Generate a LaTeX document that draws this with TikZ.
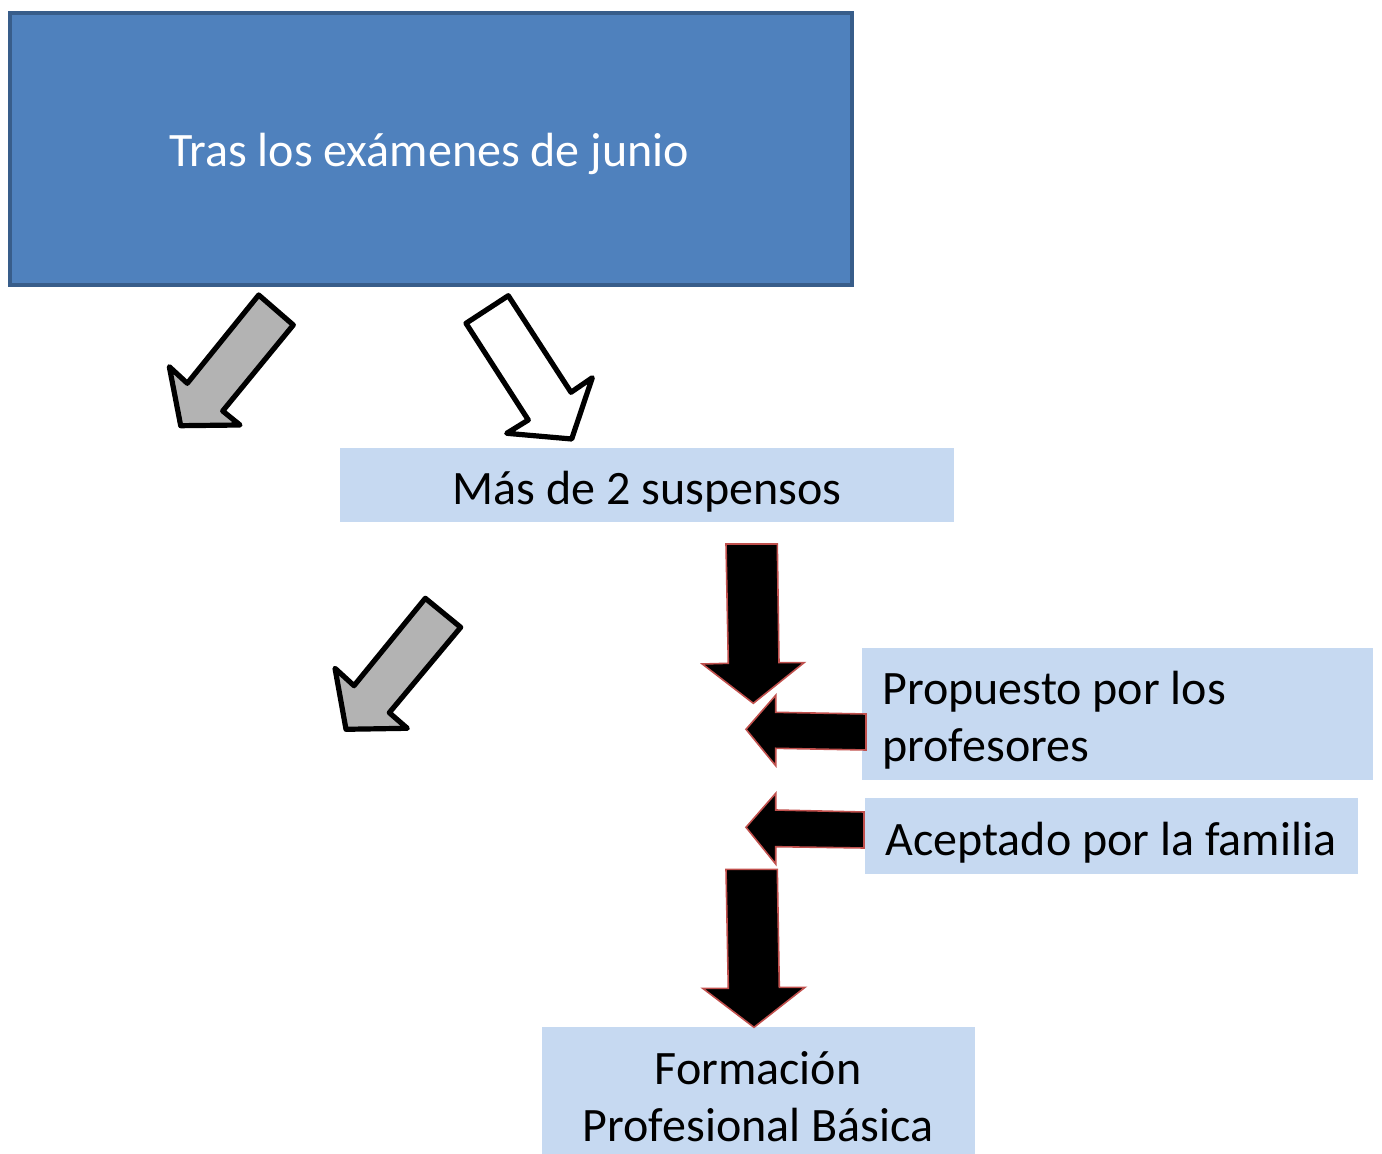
\documentclass[tikz,border=0pt]{standalone}
\usepackage{fontspec}
\setmainfont{Carlito}
\definecolor{topfill}{HTML}{4F81BD}
\definecolor{topline}{HTML}{385D8A}
\definecolor{lightbox}{HTML}{C6D9F1}
\definecolor{arrowgray}{HTML}{B3B3B3}
\definecolor{redline}{HTML}{C0504D}
\tikzset{
  lbl/.style={font=\fontsize{24}{28.5}\selectfont, text=black, inner sep=0pt},
  lightrect/.style={fill=lightbox, draw=none, inner sep=0pt, anchor=north west},
  outlinearrow/.style={draw=black, line width=2.6pt, line join=round},
  blackarrow/.style={fill=black, draw=redline, line width=0.8pt, line join=miter},
}
\begin{document}
\begin{tikzpicture}[x=0.5pt,y=-0.5pt]
\useasboundingbox (0,0) rectangle (1382,1154);
\begin{scope}
\clip (0,0) rectangle (1382,1154);
% top box
\node[fill=topfill, draw=topline, line width=1.8pt, minimum width=421pt, minimum height=136pt, anchor=north west, inner sep=0pt] (top) at (8,11) {};
\node[lbl, text=white] (toptext) at (429,154) {Tras los exámenes de junio};
% boxes
\node[lightrect, minimum width=307pt, minimum height=37pt] (mas) at (340,448) {};
\node[lbl] (mastext) at (647,492) {Más de 2 suspensos};
\node[lightrect, minimum width=255.5pt, minimum height=66pt] (prop) at (862,648) {};
\node[lbl, align=left, anchor=west] (proptext) at (882,720) {Propuesto por los\\profesores};
\node[lightrect, minimum width=246.5pt, minimum height=38pt] (acep) at (865,798) {};
\node[lbl, anchor=west] (aceptext) at (885,843) {Aceptado por la familia};
\node[lightrect, minimum width=216.5pt, minimum height=71.5pt] (fpb) at (542,1027) {};
\node[lbl, align=center] (fpbtext) at (758,1097) {Formación\\Profesional Básica};
\end{scope}
% gray arrow 1
\filldraw[outlinearrow, fill=arrowgray] (258.7,295) -- (293.3,325) -- (222.7,411) -- (240,425) -- (180.7,425.7) -- (169.3,366.7) -- (187.3,383.3) -- cycle;
% white arrow
\filldraw[outlinearrow, fill=white] (466,323.3) -- (508.3,295.7) -- (571,392.3) -- (592.3,377.7) -- (571.7,439) -- (506.7,433.3) -- (528.3,420) -- cycle;
% gray arrow 2
\filldraw[outlinearrow, fill=arrowgray] (425.3,598.3) -- (460.7,627.3) -- (389.3,712.7) -- (407.3,728.3) -- (346,729.3) -- (335,668.3) -- (354,685.7) -- cycle;
% black down arrow 1
\filldraw[blackarrow] (726,544) -- (777.3,544) -- (779,662.7) -- (804,662.7) -- (753.3,703.3) -- (702.3,664) -- (728.3,663.3) -- cycle;
% left arrow 1
\filldraw[blackarrow] (746,729.3) -- (775.7,695.3) -- (775.7,712.3) -- (866,714) -- (866,750) -- (775.7,748.3) -- (775.7,765.7) -- cycle;
% left arrow 2
\filldraw[blackarrow] (746,827.3) -- (775.7,793.3) -- (775.7,810) -- (864,812) -- (864,848) -- (775.7,846.7) -- (775.7,864) -- cycle;
% black down arrow 2
\filldraw[blackarrow] (726,869.3) -- (777.3,869.3) -- (779.3,987.3) -- (805,987.3) -- (754,1027.3) -- (702.7,988.3) -- (728.3,988.3) -- cycle;
\end{tikzpicture}
\end{document}
